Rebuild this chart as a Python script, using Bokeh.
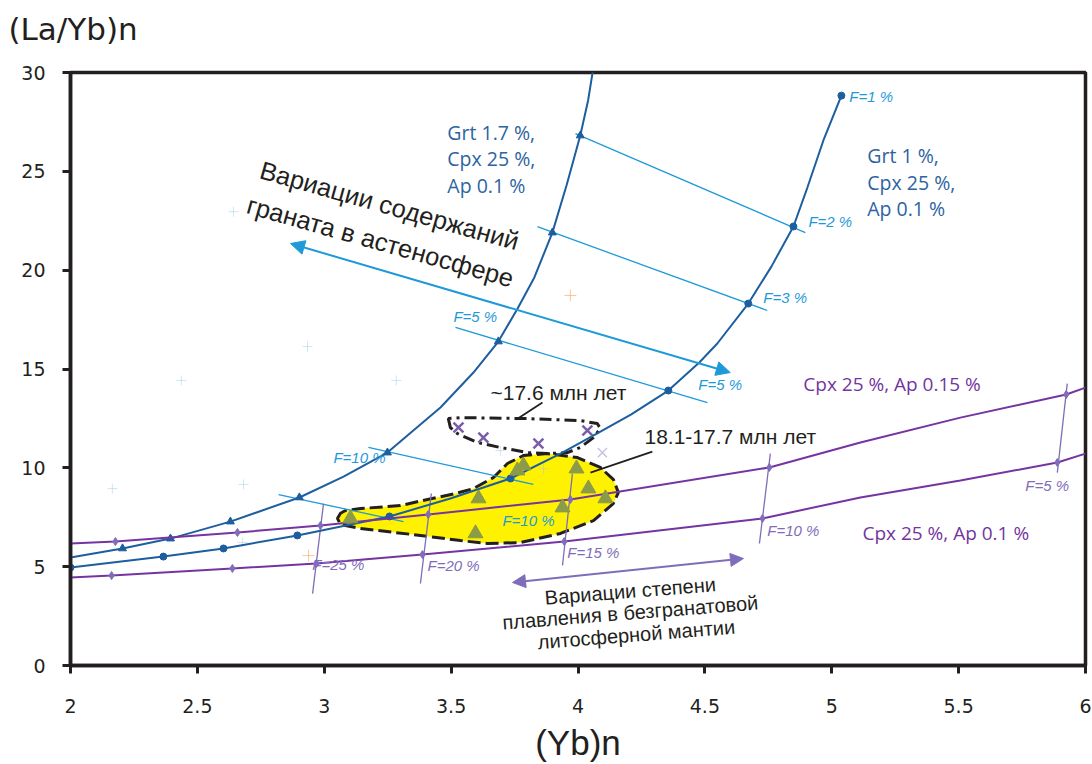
from bokeh.plotting import figure
from bokeh.models import Range1d, Label, Arrow, NormalHead, FixedTicker, Title
from bokeh.embed import file_html
from bokeh.resources import INLINE

# ---------------- data ----------------
x_ticks = [2, 2.5, 3, 3.5, 4, 4.5, 5, 5.5, 6]
x_tick_labels = ["2", "2.5", "3", "3.5", "4", "4.5", "5", "5.5", "6"]
y_ticks = [0, 5, 10, 15, 20, 25, 30]
y_tick_labels = ["0", "5", "10", "15", "20", "25", "30"]

# Grt 1.7 %, Cpx 25 %, Ap 0.1 % melting curve
grt17_line_x = [2.0, 2.205, 2.394, 2.630, 2.902, 3.076, 3.249, 3.351, 3.458, 3.588,
                3.686, 3.762, 3.828, 3.899, 3.955, 4.009, 4.040, 4.060]
grt17_line_y = [5.46, 5.92, 6.42, 7.28, 8.50, 9.56, 10.77, 11.89, 13.05, 14.82,
                16.39, 18.06, 19.63, 21.90, 24.30, 26.81, 28.60, 30.20]
grt17_mark_x = [2.205, 2.394, 2.630, 2.902, 3.249, 3.686, 3.899, 4.009]
grt17_mark_y = [5.92, 6.42, 7.28, 8.50, 10.77, 16.39, 21.90, 26.81]

# Grt 1 %, Cpx 25 %, Ap 0.1 % melting curve
grt1_line_x = [2.0, 2.366, 2.603, 2.894, 3.257, 3.497, 3.734, 3.931, 4.076, 4.210,
               4.356, 4.478, 4.549, 4.671, 4.762, 4.849, 4.904, 4.967, 5.038]
grt1_line_y = [4.96, 5.51, 5.92, 6.58, 7.54, 8.45, 9.46, 10.72, 11.74, 12.70,
               13.91, 15.33, 16.29, 18.31, 20.18, 22.21, 24.18, 26.56, 28.83]
grt1_mark_x = [2.0, 2.366, 2.603, 2.894, 3.257, 3.734, 4.356, 4.671, 4.849, 5.038]
grt1_mark_y = [4.96, 5.51, 5.92, 6.58, 7.54, 9.46, 13.91, 18.31, 22.21, 28.83]

# equal-F tie lines between the two garnet curves
tie_x0 = [3.990, 3.840, 3.517, 3.174, 2.820]
tie_y0 = [26.91, 22.20, 17.10, 11.03, 8.65]
tie_x1 = [4.896, 4.746, 4.510, 3.824, 3.312]
tie_y1 = [21.90, 17.96, 13.30, 9.16, 7.28]

# Cpx 25 %, Ap 0.15 % (garnet-free) curve
cpx015_line_x = [2.0, 2.177, 2.658, 2.985, 3.41, 3.97, 4.754, 5.113, 5.507, 5.924, 6.0]
cpx015_line_y = [6.17, 6.27, 6.73, 7.08, 7.64, 8.40, 10.02, 11.28, 12.54, 13.71, 14.06]
cpx015_mark_x = [2.177, 2.658, 2.985, 3.41, 3.97, 4.754, 5.924]
cpx015_mark_y = [6.27, 6.73, 7.08, 7.64, 8.40, 10.02, 13.71]

# Cpx 25 %, Ap 0.1 % (garnet-free) curve
cpx01_line_x = [2.0, 2.162, 2.638, 2.969, 3.387, 3.946, 4.727, 5.113, 5.507, 5.889, 6.0]
cpx01_line_y = [4.45, 4.55, 4.91, 5.16, 5.61, 6.27, 7.44, 8.50, 9.36, 10.27, 10.72]
cpx01_mark_x = [2.162, 2.638, 2.969, 3.387, 3.946, 4.727, 5.889]
cpx01_mark_y = [4.55, 4.91, 5.16, 5.61, 6.27, 7.44, 10.27]

# equal-F lines between the garnet-free curves
fline_x0 = [2.997, 3.422, 3.978, 4.758, 5.928]
fline_y0 = [8.19, 8.70, 9.71, 10.72, 14.26]
fline_x1 = [2.954, 3.379, 3.939, 4.715, 5.889]
fline_y1 = [3.64, 4.15, 5.06, 6.17, 9.76]

# field of 18.1-17.7 Ma samples
field_old_x = [3.052, 3.064, 3.084, 3.143, 3.300, 3.407, 3.517, 3.588, 3.667, 3.722, 3.785,
               3.879, 3.998, 4.088, 4.140, 4.159, 4.139, 4.061, 3.931, 3.773, 3.643,
               3.537, 3.379, 3.143, 3.064]
field_old_y = [7.44, 7.70, 7.84, 7.94, 8.09, 8.40, 8.70, 8.95, 9.51, 10.22, 10.62,
               10.72, 10.52, 10.02, 9.40, 8.75, 8.19, 7.33, 6.68, 6.22, 6.17,
               6.32, 6.58, 6.93, 7.13]
# field of ~17.6 Ma samples
field_young_x = [3.489, 3.497, 3.525, 3.604, 3.694, 3.801, 3.879, 3.958, 4.009, 4.061,
                 4.088, 4.076, 4.009, 3.801, 3.537]
field_young_y = [12.49, 12.04, 11.73, 11.28, 11.03, 10.77, 10.72, 10.77, 11.03, 11.53,
                 11.99, 12.24, 12.39, 12.49, 12.54]

# samples 18.1-17.7 Ma (triangles)
old_x = [3.103, 3.596, 3.608, 3.761, 3.785, 3.939, 3.994, 4.041, 4.108]
old_y = [7.44, 6.68, 8.45, 9.86, 10.12, 7.99, 9.96, 8.95, 8.45]
# samples ~17.6 Ma (crosses)
young_x = [3.529, 3.627, 3.844, 4.037]
young_y = [12.04, 11.53, 11.23, 11.89]

# faint background samples
faint_x = [2.642, 2.437, 2.165, 2.682, 2.934, 3.284, 2.678, 3.694, 3.864]
faint_y = [22.96, 14.42, 8.95, 9.16, 16.14, 14.42, 6.22, 10.87, 9.96]
faint_orange_x = [3.970, 2.938]
faint_orange_y = [18.72, 5.56]
faint_x_cross_x = [4.096]
faint_x_cross_y = [10.77]

# arrows
grt_arrow_x = [2.867, 4.600]
grt_arrow_y = [21.35, 14.82]
melt_arrow_x = [3.742, 4.652]
melt_arrow_y = [4.20, 5.41]

# leader lines
lead_young_x = [3.860, 3.757]
lead_young_y = [13.30, 12.44]
lead_old_x = [4.293, 4.049]
lead_old_y = [10.82, 9.76]

# ---------------- styles ----------------
DARK_BLUE = "#1D5E9F"
LIGHT_BLUE = "#1E9AD8"
PURPLE = "#7634A2"
LAVENDER = "#7F6DB9"
BLUE_TXT = "#2D63A0"
PURPLE_TXT = "#7334A0"
BLACK = "#231F20"

p = figure(width=1092, height=764, x_range=Range1d(2, 6), y_range=Range1d(0, 30),
           output_backend="svg", toolbar_location=None, title="(La/Yb)n",
           min_border_left=70, min_border_right=7, min_border_top=72, min_border_bottom=99)
p.grid.visible = False
p.background_fill_color = "white"
p.border_fill_color = "white"
p.outline_line_color = BLACK
p.outline_line_width = 3.5

# real y-axis title (outer) + invisible spacer title next to the frame
p.title.align = "left"
p.title.offset = -62
p.title.text_font = "DejaVu Sans"
p.title.text_font_size = "31px"
p.title.text_font_style = "normal"
p.title.text_color = BLACK
p.add_layout(Title(text=".", text_font_size="12px", text_color="white"), "above")

p.xaxis.ticker = FixedTicker(ticks=x_ticks)
p.xaxis.major_label_overrides = {t: s for t, s in zip(x_ticks, x_tick_labels)}
p.yaxis.ticker = FixedTicker(ticks=y_ticks)
p.yaxis.major_label_overrides = {t: s for t, s in zip(y_ticks, y_tick_labels)}
for ax in (p.xaxis[0], p.yaxis[0]):
    ax.axis_line_width = 3.5
    ax.axis_line_color = BLACK
    ax.major_tick_line_width = 3
    ax.major_tick_line_color = BLACK
    ax.major_tick_out = 8
    ax.major_tick_in = 0
    ax.minor_tick_line_color = None
    ax.major_label_text_font = "DejaVu Sans"
    ax.major_label_text_font_size = "19px"
    ax.major_label_text_color = BLACK
p.xaxis.major_label_standoff = 25
p.yaxis.major_label_standoff = 17
p.xaxis.axis_label = "(Yb)n"
p.xaxis.axis_label_text_font = "Liberation Sans"
p.xaxis.axis_label_text_font_size = "35px"
p.xaxis.axis_label_text_font_style = "normal"
p.xaxis.axis_label_text_color = BLACK
p.xaxis.axis_label_standoff = 7

# yellow field (below the curves)
p.patch(field_old_x, field_old_y, fill_color="#FFF200", line_color=BLACK,
        line_width=3, line_dash="13 5")
p.patch(field_young_x, field_young_y, fill_alpha=0, line_color=BLACK,
        line_width=3, line_dash="12 5 3 5")

# faint background samples
p.scatter(faint_x, faint_y, marker="cross", size=10, line_color="#9CC7DD", line_alpha=0.45, line_width=1)
p.scatter(faint_orange_x, faint_orange_y, marker="cross", size=12, line_color="#F4A460", line_alpha=0.6, line_width=1)
p.scatter(faint_x_cross_x, faint_x_cross_y, marker="x", size=13, line_color="#B9ABD9", line_alpha=0.8, line_width=1.3)

# tie lines
p.segment(tie_x0, tie_y0, tie_x1, tie_y1, line_color=LIGHT_BLUE, line_width=1.3)
p.segment(fline_x0, fline_y0, fline_x1, fline_y1, line_color=LAVENDER, line_width=1.3)

# curves
p.line(grt17_line_x, grt17_line_y, line_color=DARK_BLUE, line_width=2)
p.scatter(grt17_mark_x, grt17_mark_y, marker="triangle", size=8, color=DARK_BLUE)
p.line(grt1_line_x, grt1_line_y, line_color=DARK_BLUE, line_width=2)
p.scatter(grt1_mark_x, grt1_mark_y, marker="circle", size=7, color=DARK_BLUE)
p.line(cpx015_line_x, cpx015_line_y, line_color=PURPLE, line_width=2)
p.scatter(cpx015_mark_x, cpx015_mark_y, marker="diamond", size=8, color=LAVENDER)
p.line(cpx01_line_x, cpx01_line_y, line_color=PURPLE, line_width=2)
p.scatter(cpx01_mark_x, cpx01_mark_y, marker="diamond", size=8, color=LAVENDER)

# samples
p.scatter(old_x, old_y, marker="triangle", size=15, color="#8C9B48")
p.scatter(young_x, young_y, marker="x", size=14, line_color="#7A5EA8", line_width=2.5)

# leader lines
p.line(lead_young_x, lead_young_y, line_color=BLACK, line_width=1.8)
p.line(lead_old_x, lead_old_y, line_color=BLACK, line_width=1.8)

# arrows
p.add_layout(Arrow(x_start=grt_arrow_x[0], y_start=grt_arrow_y[0],
                   x_end=grt_arrow_x[1], y_end=grt_arrow_y[1],
                   line_color=LIGHT_BLUE, line_width=2,
                   start=NormalHead(size=14, fill_color=LIGHT_BLUE, line_color=LIGHT_BLUE),
                   end=NormalHead(size=14, fill_color=LIGHT_BLUE, line_color=LIGHT_BLUE)))
p.add_layout(Arrow(x_start=melt_arrow_x[0], y_start=melt_arrow_y[0],
                   x_end=melt_arrow_x[1], y_end=melt_arrow_y[1],
                   line_color=LAVENDER, line_width=2,
                   start=NormalHead(size=13, fill_color=LAVENDER, line_color=LAVENDER),
                   end=NormalHead(size=13, fill_color=LAVENDER, line_color=LAVENDER)))


def lab(x, y, text, size, color=BLACK, font="Liberation Sans", align="left",
        style="normal", angle=0.0, xo=0, yo=0):
    p.add_layout(Label(x=x, y=y, text=text, text_font=font, text_font_size=size,
                       text_color=color, text_align=align, text_baseline="middle",
                       text_font_style=style, angle=angle, x_offset=xo, y_offset=yo))


# curve labels
for i, t in enumerate(["Grt 1.7 %,", "Cpx 25 %,", "Ap 0.1 %"]):
    lab(3.485, [26.96, 25.65, 24.28][i], t, "19.5px", color=BLUE_TXT, font="Open Sans")
for i, t in enumerate(["Grt 1 %,", "Cpx 25 %,", "Ap 0.1 %"]):
    lab(5.140, [25.80, 24.43, 23.12][i], t, "19.5px", color=BLUE_TXT, font="Open Sans")
lab(4.888, 14.26, "Cpx 25 %, Ap 0.15 %", "19px", color=PURPLE_TXT, font="Open Sans")
lab(5.121, 6.68, "Cpx 25 %, Ap 0.1 %", "19px", color=PURPLE_TXT, font="Open Sans")

# F labels (garnet curves)
for x, y, t in [(5.069, 28.78, "F=1 %"), (4.908, 22.46, "F=2 %"), (4.730, 18.61, "F=3 %"),
                (4.474, 14.21, "F=5 %"), (3.509, 17.65, "F=5 %"), (3.036, 10.52, "F=10 %"),
                (3.702, 7.33, "F=10 %")]:
    lab(x, y, t, "15px", color=LIGHT_BLUE, style="italic")
# F labels (garnet-free curves)
for x, y, t in [(2.953, 5.11, "F=25 %"), (3.407, 5.06, "F=20 %"), (3.958, 5.72, "F=15 %"),
                (4.746, 6.83, "F=10 %"), (5.763, 9.10, "F=5 %")]:
    lab(x, y, t, "15px", color=LAVENDER, style="italic")

# sample field labels
lab(3.655, 13.81, "~17.6 млн лет", "21px")
lab(4.262, 11.58, "18.1-17.7 млн лет", "21px")

# rotated annotations
lab(3.257, 23.27, "Вариации содержаний", "25.5px", align="center", angle=-0.274)
lab(3.221, 21.45, "граната в астеносфере", "25.5px", align="center", angle=-0.274)
lab(4.206, 3.77, "Вариации степени", "20px", align="center", angle=0.079)
lab(4.206, 2.68, "плавления в безгранатовой", "20px", align="center", angle=0.079)
lab(4.230, 1.57, "литосферной мантии", "20px", align="center", angle=0.079)

open("out.html", "w").write(file_html(p, INLINE))
